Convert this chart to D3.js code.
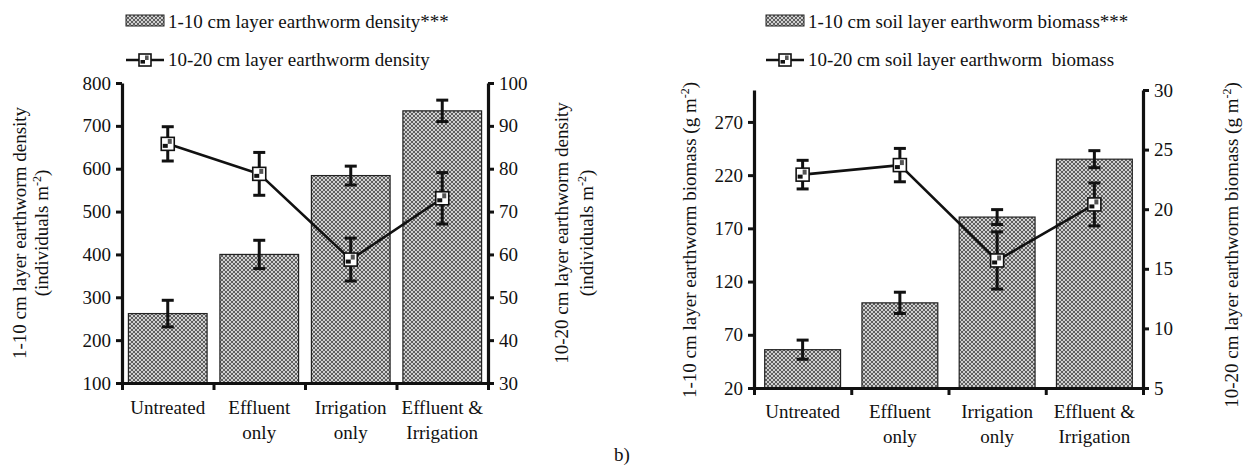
<!DOCTYPE html>
<html><head><meta charset="utf-8">
<script src="https://cdn.jsdelivr.net/npm/d3@7"></script>
<style>
body{margin:0;background:#fff;}
svg text{font-family:"Liberation Serif","Times New Roman",serif;fill:#111;}
</style></head>
<body><svg id="c" width="1243" height="467"></svg>
<script>
// ---------- data ----------
const categories = [["Untreated"],["Effluent","only"],["Irrigation","only"],["Effluent &","Irrigation"]];

const densityBar = [262, 400, 584, 735];
const densityBarErr = [31, 33, 22, 25];
const densityLine = [85.8, 78.8, 58.8, 73.1];
const densityLineErr = [4, 5, 5, 6];

const biomassBar = [56, 100, 180.6, 235];
const biomassBarErr = [9, 10, 7, 8];
const biomassLine = [22.9, 23.7, 15.7, 20.4];
const biomassLineErr = [1.2, 1.4, 2.4, 1.8];

const densityLeftTicks = [100,200,300,400,500,600,700,800];
const densityRightTicks = [30,40,50,60,70,80,90,100];
const biomassLeftTicks = [20,70,120,170,220,270];
const biomassRightTicks = [5,10,15,20,25,30];

const densityLegend = ["1-10 cm layer earthworm density***","10-20 cm layer earthworm density"];
const biomassLegend = ["1-10 cm soil layer earthworm biomass***","10-20 cm soil layer earthworm  biomass"];
// ---------------------------

const svg = d3.select("#c");
const defs = svg.append("defs");
const pat = defs.append("pattern").attr("id","hatch").attr("patternUnits","userSpaceOnUse")
  .attr("width",4).attr("height",4);
pat.append("rect").attr("width",4).attr("height",4).attr("fill","#5e5e5e");
[[0,0],[4,0],[0,4],[4,4],[2,2]].forEach(([x,y])=>pat.append("circle").attr("cx",x).attr("cy",y).attr("r",1.05).attr("fill","#eeeeee"));

const FS = 19;

function marker(g, x, y, s){
  const m = g.append("g").attr("transform",`translate(${x},${y})`);
  m.append("rect").attr("x",-s/2).attr("y",-s/2).attr("width",s).attr("height",s)
    .attr("fill","#fff").attr("stroke","#111").attr("stroke-width",1.6);
  const q = s/2 - 1.5;
  m.append("rect").attr("x",-q).attr("y",0).attr("width",q).attr("height",q*0.8).attr("fill","#111");
  m.append("rect").attr("x",0).attr("y",-q).attr("width",q*0.8).attr("height",q).attr("fill","#555");
}

function errBar(g, x, yHi, yLo, cap){
  g.append("line").attr("x1",x).attr("x2",x).attr("y1",yHi).attr("y2",yLo).attr("stroke","#111").attr("stroke-width",3);
  [yHi,yLo].forEach(y=>g.append("line").attr("x1",x-cap/2).attr("x2",x+cap/2).attr("y1",y).attr("y2",y).attr("stroke","#111").attr("stroke-width",3));
}

function rotTitle(g, x, y, parts){
  const t = g.append("text").attr("transform",`translate(${x},${y}) rotate(-90)`)
    .attr("text-anchor","middle").style("font-size",FS+"px").attr("xml:space","preserve");
  parts.forEach(p=>{
    const ts = t.append("tspan").text(p.t);
    if(p.sup){ ts.attr("dy",-7).style("font-size","12px"); }
    if(p.after){ ts.attr("dy",7); }
  });
}

function panel(cfg){
  const g = svg.append("g");
  const yL = d3.scaleLinear().domain(cfg.leftDomain).range([cfg.yBot,cfg.yTop]);
  const yR = d3.scaleLinear().domain(cfg.rightDomain).range([cfg.yBot,cfg.yTop]);
  const xb = d3.scaleBand().domain(d3.range(categories.length)).range([cfg.x0,cfg.x1])
    .paddingInner(cfg.pad).paddingOuter(cfg.pad/2);
  const xc = d3.scaleBand().domain(d3.range(categories.length)).range([cfg.x0,cfg.x1]);
  const xEdge = d3.scaleLinear().domain([0,categories.length]).range([cfg.x0,cfg.x1]);

  // bars
  g.selectAll("rect.bar").data(cfg.bars).join("rect").attr("class","bar")
    .attr("x",(d,i)=>xb(i)).attr("width",xb.bandwidth())
    .attr("y",d=>yL(d)).attr("height",d=>yL(cfg.leftDomain[0])-yL(d))
    .attr("fill","url(#hatch)").attr("stroke","#222").attr("stroke-width",1.2);
  cfg.bars.forEach((d,i)=>errBar(g, xc(i)+xc.bandwidth()/2, yL(d+cfg.barErr[i]), yL(d-cfg.barErr[i]), 12));

  // axes
  const axL = g.append("g").attr("transform",`translate(${cfg.x0},0)`)
    .call(d3.axisLeft(yL).tickValues(cfg.leftTicks).tickSize(6).tickSizeOuter(0).tickPadding(5));
  const axR = g.append("g").attr("transform",`translate(${cfg.x1},0)`)
    .call(d3.axisRight(yR).tickValues(cfg.rightTicks).tickSize(6).tickSizeOuter(0).tickPadding(5));
  const axB = g.append("g").attr("transform",`translate(0,${cfg.yBot})`)
    .call(d3.axisBottom(xEdge).tickValues(d3.range(categories.length+1)).tickFormat("").tickSize(7).tickSizeOuter(0));
  [axL,axR,axB].forEach(a=>{
    a.select(".domain").attr("stroke","#111").attr("stroke-width",3.2);
    a.selectAll(".tick line").attr("stroke","#111").attr("stroke-width",3);
    a.selectAll(".tick text").style("font-size",FS+"px").attr("fill","#111").style("font-family",'"Liberation Serif",serif');
  });
  axB.select(".domain").attr("stroke-linecap","square");

  // category labels
  categories.forEach((lines,i)=>{
    lines.forEach((ln,j)=>{
      g.append("text").attr("x",xc(i)+xc.bandwidth()/2).attr("y",cfg.catY+j*25)
        .attr("text-anchor","middle").style("font-size",FS+"px").text(ln);
    });
  });

  // line series
  const lg = d3.line().x((d,i)=>xc(i)+xc.bandwidth()/2).y(d=>yR(d));
  g.append("path").attr("d",lg(cfg.line)).attr("fill","none").attr("stroke","#111").attr("stroke-width",2.6);
  cfg.line.forEach((d,i)=>errBar(g, xc(i)+xc.bandwidth()/2, yR(d+cfg.lineErr[i]), yR(d-cfg.lineErr[i]), 12));
  cfg.line.forEach((d,i)=>marker(g, xc(i)+xc.bandwidth()/2, yR(d), 13));

  // legend
  const lx = cfg.legendX;
  g.append("rect").attr("x",lx).attr("y",15).attr("width",38).attr("height",11)
    .attr("fill","url(#hatch)").attr("stroke","#222").attr("stroke-width",1);
  g.append("text").attr("x",lx+42).attr("y",28).style("font-size",FS+"px").text(cfg.legend[0]);
  g.append("line").attr("x1",lx).attr("x2",lx+38).attr("y1",60).attr("y2",60).attr("stroke","#111").attr("stroke-width",2.6);
  marker(g, lx+19, 60, 12);
  g.append("text").attr("x",lx+42).attr("y",66).style("font-size",FS+"px").attr("xml:space","preserve").text(cfg.legend[1]);

  cfg.titles(g);
}

panel({
  x0:122, x1:488, yTop:83, yBot:383, pad:0.14,
  leftDomain:[100,800], rightDomain:[30,100],
  leftTicks:densityLeftTicks, rightTicks:densityRightTicks,
  bars:densityBar, barErr:densityBarErr, line:densityLine, lineErr:densityLineErr,
  catY:414, legendX:126, legend:densityLegend,
  titles:g=>{
    rotTitle(g, 26, 233, [{t:"1-10 cm layer earthworm density"}]);
    rotTitle(g, 48, 233, [{t:"(individuals m"},{t:"-2",sup:true},{t:")",after:true}]);
    rotTitle(g, 568, 233, [{t:"10-20 cm layer earthworm density"}]);
    rotTitle(g, 593, 233, [{t:"(individuals m"},{t:"-2",sup:true},{t:")",after:true}]);
  }
});

panel({
  x0:754, x1:1143, yTop:90, yBot:388, pad:0.22,
  leftDomain:[20,300], rightDomain:[5,30],
  leftTicks:biomassLeftTicks, rightTicks:biomassRightTicks,
  bars:biomassBar, barErr:biomassBarErr, line:biomassLine, lineErr:biomassLineErr,
  catY:418, legendX:766, legend:biomassLegend,
  titles:g=>{
    rotTitle(g, 696, 240, [{t:"1-10 cm layer earthworm biomass (g m"},{t:"-2",sup:true},{t:")",after:true}]);
    rotTitle(g, 1238, 245, [{t:"10-20 cm layer earthworm biomass (g m"},{t:"-2",sup:true},{t:")",after:true}]);
  }
});

svg.append("text").attr("x",622).attr("y",461).attr("text-anchor","middle").style("font-size",FS+"px").text("b)");
</script></body></html>
